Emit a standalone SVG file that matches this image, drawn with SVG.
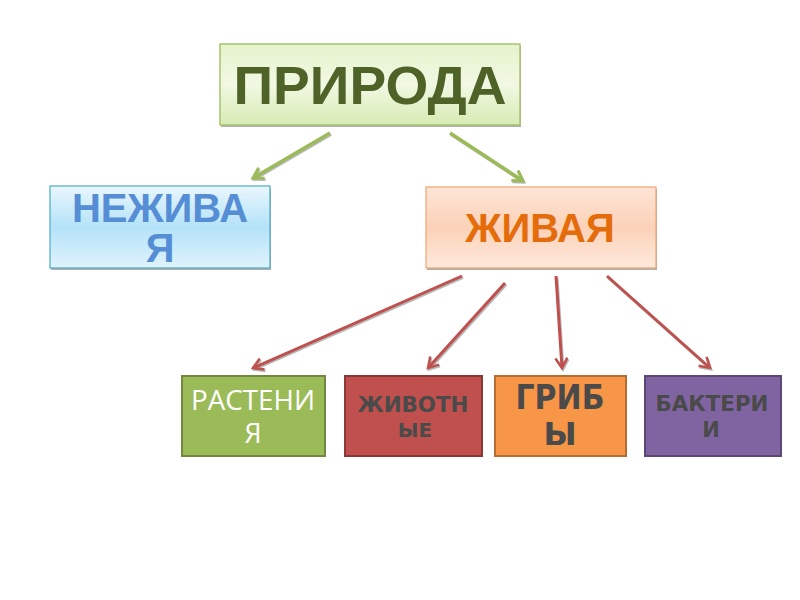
<svg xmlns="http://www.w3.org/2000/svg" width="800" height="600" viewBox="0 0 800 600">
<style>
.t{font-family:"Liberation Sans",Arial,sans-serif;font-weight:bold;text-anchor:middle}
.d{font-family:"DejaVu Sans","Liberation Sans",sans-serif;font-weight:bold;text-anchor:middle;fill:#4a4a4a}
.g{fill:none;stroke:#9bbb59;stroke-width:3.5}
.r{fill:none;stroke:#c0504d;stroke-width:3}
.s{fill:none;stroke:#b8b8b8;stroke-width:3}
.sh{fill:#b0b0b0}
</style>
<defs>
<linearGradient id="gg" x1="0" y1="0" x2="0" y2="1"><stop offset="0" stop-color="#e6f3cc"/><stop offset="0.5" stop-color="#f1f8e3"/><stop offset="1" stop-color="#d8ebb4"/></linearGradient>
<linearGradient id="gb" x1="0" y1="0" x2="0" y2="1"><stop offset="0" stop-color="#eaf7fd"/><stop offset="0.5" stop-color="#b4e2f8"/><stop offset="1" stop-color="#e0f3fc"/></linearGradient>
<linearGradient id="go" x1="0" y1="0" x2="0" y2="1"><stop offset="0" stop-color="#fde4d6"/><stop offset="0.5" stop-color="#fcd2b8"/><stop offset="1" stop-color="#fee9dc"/></linearGradient>
<marker id="mg" markerUnits="userSpaceOnUse" markerWidth="20" markerHeight="20" refX="12" refY="7" orient="auto"><path d="M2,1 L12,7 L2,13" fill="none" stroke="#9bbb59" stroke-width="3"/></marker>
<marker id="mr" markerUnits="userSpaceOnUse" markerWidth="20" markerHeight="20" refX="12" refY="7" orient="auto"><path d="M2,1 L12,7 L2,13" fill="none" stroke="#c0504d" stroke-width="2.5"/></marker>
<marker id="ms" markerUnits="userSpaceOnUse" markerWidth="20" markerHeight="20" refX="12" refY="7" orient="auto"><path d="M2,1 L12,7 L2,13" fill="none" stroke="#b8b8b8" stroke-width="2.5"/></marker>
</defs>
<rect width="800" height="600" fill="#ffffff"/>
<g id="connectors">
<g transform="translate(1,1.5)">
<line class="s" x1="330" y1="133" x2="253" y2="178" marker-end="url(#ms)"/>
<line class="s" x1="450" y1="133" x2="523" y2="181" marker-end="url(#ms)"/>
<line class="s" x1="462" y1="276" x2="253" y2="368" marker-end="url(#ms)"/>
<line class="s" x1="505" y1="283" x2="428" y2="368" marker-end="url(#ms)"/>
<line class="s" x1="556" y1="276" x2="562" y2="368" marker-end="url(#ms)"/>
<line class="s" x1="607" y1="276" x2="710" y2="368" marker-end="url(#ms)"/>
</g>
<line class="g" x1="330" y1="133" x2="253" y2="178" marker-end="url(#mg)"/>
<line class="g" x1="450" y1="133" x2="523" y2="181" marker-end="url(#mg)"/>
<line class="r" x1="462" y1="276" x2="253" y2="368" marker-end="url(#mr)"/>
<line class="r" x1="505" y1="283" x2="428" y2="368" marker-end="url(#mr)"/>
<line class="r" x1="556" y1="276" x2="562" y2="368" marker-end="url(#mr)"/>
<line class="r" x1="607" y1="276" x2="710" y2="368" marker-end="url(#mr)"/>
</g>
<g id="priroda">
<rect class="sh" x="221" y="46" width="300" height="81"/>
<rect x="220" y="44" width="300" height="81" fill="url(#gg)" stroke="#a6c46f" stroke-width="1.5"/>
<text class="t" x="370" y="104" font-size="53" fill="#4f6228" textLength="273" lengthAdjust="spacingAndGlyphs">ПРИРОДА</text>
</g>
<g id="nezhivaya">
<rect class="sh" x="51" y="188" width="220" height="82"/>
<rect x="50" y="186" width="220" height="82" fill="url(#gb)" stroke="#4bacc6" stroke-width="1.2"/>
<text class="t" x="160" y="222" font-size="40" fill="#558ed5">НЕЖИВА</text>
<text class="t" x="160" y="262" font-size="40" fill="#558ed5">Я</text>
</g>
<g id="zhivaya">
<rect class="sh" x="427" y="189" width="230" height="81"/>
<rect x="426" y="187" width="230" height="81" fill="url(#go)" stroke="#f0a56e" stroke-width="1.2"/>
<text class="t" x="540" y="242" font-size="40" fill="#e46c0a">ЖИВАЯ</text>
</g>
<g id="rasteniya">
<rect x="182" y="376" width="143" height="80" fill="#9bbb59" stroke="#71893f" stroke-width="2"/>
<text x="253" y="410" font-family="'Open Sans','Liberation Sans',sans-serif" font-size="28" fill="#ffffff" text-anchor="middle" textLength="124" lengthAdjust="spacingAndGlyphs">РАСТЕНИ</text>
<text x="253" y="443" font-family="'Open Sans','Liberation Sans',sans-serif" font-size="27" fill="#ffffff" text-anchor="middle">Я</text>
</g>
<g id="zhivotnye">
<rect x="345" y="376" width="137" height="80" fill="#c0504d" stroke="#8c3836" stroke-width="2"/>
<text class="d" x="413" y="412" font-size="22" textLength="111" lengthAdjust="spacingAndGlyphs">ЖИВОТН</text>
<text class="d" x="415" y="437" font-size="20">ЫЕ</text>
</g>
<g id="griby">
<rect x="495" y="376" width="131" height="80" fill="#f79646" stroke="#b66d31" stroke-width="2"/>
<text class="d" x="560" y="409" font-size="33" textLength="89" lengthAdjust="spacingAndGlyphs">ГРИБ</text>
<text class="d" x="560" y="445" font-size="32">Ы</text>
</g>
<g id="bakterii">
<rect x="645" y="376" width="136" height="80" fill="#8064a2" stroke="#5c4776" stroke-width="2"/>
<text class="d" x="712" y="411" font-size="22" textLength="113" lengthAdjust="spacingAndGlyphs">БАКТЕРИ</text>
<text class="d" x="711" y="437" font-size="21">И</text>
</g>
</svg>
